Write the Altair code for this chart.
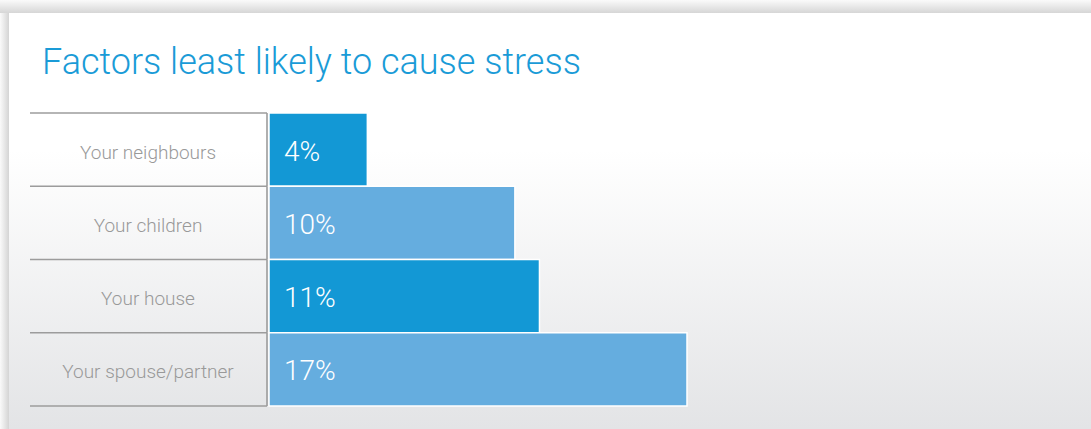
import altair as alt
import pandas as pd

# ---- data ----
categories = ["Your neighbours", "Your children", "Your house", "Your spouse/partner"]
values = [4, 10, 11, 17]
labels = ["4%", "10%", "11%", "17%"]
bar_colors = ["#1398d5", "#65addf", "#1398d5", "#65addf"]
title_text = "Factors least likely to cause stress"

W, H = 1091, 429

df = pd.DataFrame({"cat": categories, "pct": values, "label": labels, "color": bar_colors})
one = pd.DataFrame({"a": [0]})

yscale = alt.Scale(domain=categories, range=[113, 406], paddingInner=0, paddingOuter=0)
xscale = alt.Scale(domain=[0, 17], range=[269, 687], nice=False, zero=True)

def grad(stops, vertical=True):
    return alt.Gradient(
        gradient="linear",
        stops=[alt.GradientStop(color=c, offset=o) for o, c in stops],
        x1=0, y1=0, x2=0 if vertical else 1, y2=1 if vertical else 0,
    )

base_bg = alt.Chart(one).mark_rect(color="#f2f2f2").encode(
    x=alt.value(0), x2=alt.value(W), y=alt.value(0), y2=alt.value(H))
top_shadow = alt.Chart(one).mark_rect(
    color=grad([(0, "#fafafa"), (1, "#d6d6d6")])).encode(
    x=alt.value(0), x2=alt.value(W), y=alt.value(0), y2=alt.value(13))
left_shadow = alt.Chart(one).mark_rect(
    color=grad([(0, "#fafafa"), (1, "#d4d4d4")], vertical=False)).encode(
    x=alt.value(0), x2=alt.value(9), y=alt.value(13), y2=alt.value(H))
card = alt.Chart(one).mark_rect(
    color=grad([(0, "#ffffff"), (0.33, "#ffffff"), (1, "#e3e4e6")])).encode(
    x=alt.value(9), x2=alt.value(W), y=alt.value(13), y2=alt.value(H))

ycat = alt.Y("cat:N", scale=yscale, axis=None, sort=categories)

hlines_top = alt.Chart(df).mark_rule(color="#9c9c9c", strokeWidth=1.5).encode(
    y=alt.Y("cat:N", scale=yscale, axis=None, sort=categories, bandPosition=0),
    x=alt.value(30), x2=alt.value(267))
hline_bottom = alt.Chart(df).transform_filter(
    alt.datum.cat == categories[-1]).mark_rule(color="#9c9c9c", strokeWidth=1.5).encode(
    y=alt.Y("cat:N", scale=yscale, axis=None, sort=categories, bandPosition=1),
    x=alt.value(30), x2=alt.value(267))
vline = alt.Chart(df).mark_rect(color="#9c9c9c").encode(
    y=ycat, x=alt.value(266.2), x2=alt.value(267.8))

bars = alt.Chart(df).mark_bar(stroke="white", strokeWidth=1.5).encode(
    y=ycat,
    x=alt.X("pct:Q", scale=xscale, axis=None),
    color=alt.Color("color:N", scale=None),
)

cat_text = alt.Chart(df).mark_text(
    align="center", baseline="middle", font="Roboto", fontWeight=300,
    fontSize=19, color="#999999", dy=3).encode(
    y=ycat, x=alt.value(148), text="cat:N")

pct_text = alt.Chart(df).mark_text(
    align="left", baseline="middle", font="Roboto", fontWeight=300,
    fontSize=28, color="white", dx=15, dy=3).encode(
    y=ycat, x=alt.X(datum=0, scale=xscale, axis=None), text="label:N")

chart = alt.layer(
    base_bg, top_shadow, left_shadow, card,
    hlines_top, hline_bottom, vline, bars, cat_text, pct_text,
).properties(
    width=W, height=H,
    autosize=alt.AutoSizeParams(type="none"),
    padding=0,
    title=alt.Title(title_text, anchor="start", frame="group", orient="top",
                    offset=0, dx=42, dy=110, baseline="alphabetic",
                    font="Roboto", fontWeight=300, fontSize=36, color="#1a9bd7"),
).configure_view(stroke=None).configure(background="#ffffff")

chart.save("out.html", embed_options={"renderer": "svg", "actions": False})
